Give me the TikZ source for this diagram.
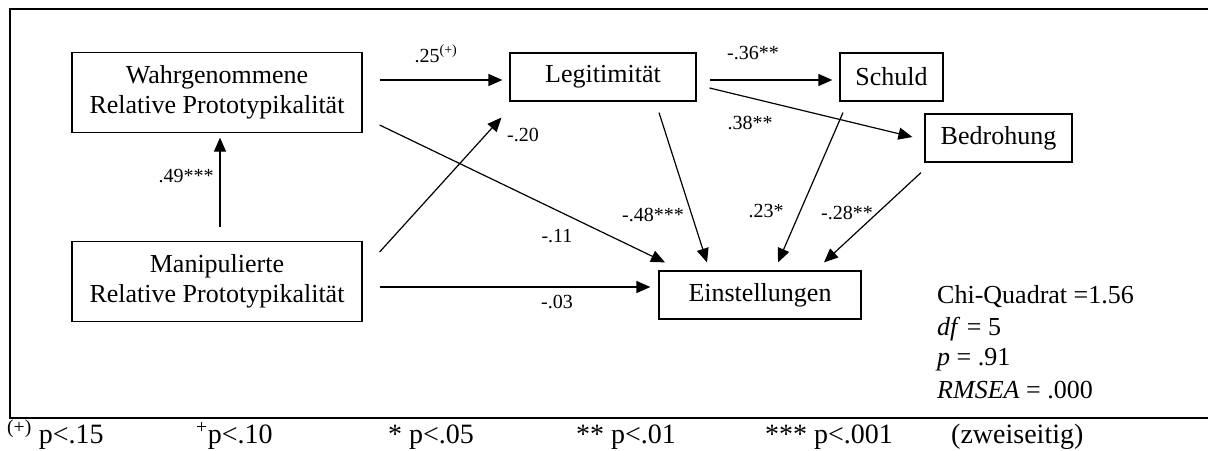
\documentclass[tikz,border=0pt]{standalone}
\usepackage{fontspec}
\setmainfont{Liberation Serif}
\usetikzlibrary{arrows.meta,calc}
\begin{document}
\begin{tikzpicture}[x=1pt,y=-1pt,
  box/.style={draw,line width=1.2pt,inner sep=0pt,align=center,font=\fontsize{26}{30}\selectfont},
  arr/.style={line width=1.2pt,-{Triangle[length=14pt,width=12pt]}},
  lab/.style={font=\fontsize{20}{22}\selectfont,inner sep=0pt},
  stat/.style={font=\fontsize{26}{30}\selectfont,anchor=base west,inner sep=0pt},
  foot/.style={font=\fontsize{28}{30}\selectfont,anchor=base west,inner sep=0pt}]
\useasboundingbox (0,0) rectangle (1208,450);
\draw[line width=2.5pt] (1210,9) -- (10,9) -- (10,418) -- (1210,418);
% boxes
\node[box,minimum width=290pt,minimum height=80pt] (W) at (217,92.5) {Wahrgenommene\\Relative Prototypikalität};
\node[box,minimum width=290pt,minimum height=80pt] (M) at (217,281.5) {Manipulierte\\Relative Prototypikalität};
\node[box,minimum width=186pt,minimum height=48pt] (L) at (603,77) {Legitimität};
\node[box,minimum width=103pt,minimum height=48pt] (S) at (891.5,77) {Schuld};
\node[box,minimum width=147pt,minimum height=48pt] (B) at (998.5,138) {Bedrohung};
\node[box,minimum width=202pt,minimum height=48pt] (E) at (760,295) {Einstellungen};
% arrows
\draw[arr] ($(W.east)+(17,-12.5)$) -- ($(L.west)+(-7,3)$);
\draw[arr] ($(L.east)+(13,3)$) -- ($(S.west)+(-7,3)$);
\draw[arr] ($(L.east)+(13,11)$) -- ($(B.west)+(-12,-1)$);
\draw[arr] ($(W.east)+(17,32.5)$) -- ($(E.north)+(-95,-8)$);
\draw[arr] ($(M.east)+(17,-29.5)$) -- ($(L.south west)+(-8,16)$);
\draw[arr] ($(M.east)+(17,5.5)$) -- ($(E.west)+(-8,-8)$);
\draw[arr] ($(M.north)+(3,-13.5)$) -- ($(W.south)+(3,4.5)$);
\draw[arr] ($(L.south)+(56,11)$) -- ($(E.north)+(-53,-8)$);
\draw[arr] ($(S.south)+(-48.5,11)$) -- ($(E.north)+(18,-8)$);
\draw[arr] ($(B.south)+(-77.5,10)$) -- ($(E.north)+(64,-8)$);
% labels
\node[lab] (l1) at (436,54) {.25\textsuperscript{(+)}};
\node[lab] (l2) at (753,53) {-.36**};
\node[lab] (l3) at (750,123) {.38**};
\node[lab] (l4) at (523,135) {-.20};
\node[lab] (l5) at (557,236) {-.11};
\node[lab] (l6) at (557,302) {-.03};
\node[lab] (l7) at (653,215) {-.48***};
\node[lab] (l8) at (766,211) {.23*};
\node[lab] (l9) at (847,213) {-.28**};
\node[lab] (l10) at (186,176) {.49***};
% stats
\node[stat] (s1) at (937,303) {Chi-Quadrat =1.56};
\node[stat] (s2) at (937,335) {\textit{df} = 5};
\node[stat] (s3) at (937,365) {\textit{p} = .91};
\node[stat] (s4) at (937,398) {\textit{RMSEA} = .000};
% footer
\node[foot] (f1) at (7,443) {\textsuperscript{(+)} p<.15};
\node[foot] (f2) at (196,443) {\textsuperscript{+}p<.10};
\node[foot] (f3) at (388,443) {* p<.05};
\node[foot] (f4) at (576,443) {** p<.01};
\node[foot] (f5) at (765,443) {*** p<.001};
\node[foot] (f6) at (951,443) {(zweiseitig)};
\end{tikzpicture}
\end{document}
